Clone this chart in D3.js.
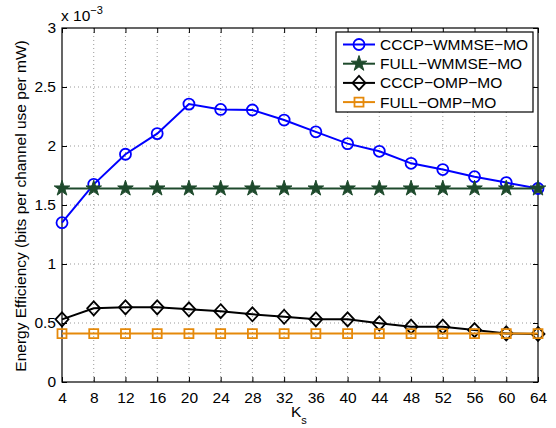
<!DOCTYPE html>
<html>
<head>
<meta charset="utf-8">
<script src="https://cdn.jsdelivr.net/npm/d3@7"></script>
<style>
  html, body { margin: 0; padding: 0; background: #fff; }
  svg { display: block; font-family: "Liberation Sans", Arial, Helvetica, sans-serif; }
</style>
</head>
<body>
<svg id="chart" width="556" height="428"></svg>
<script>
// Number of selected streams K_s
const ks = [4, 8, 12, 16, 20, 24, 28, 32, 36, 40, 44, 48, 52, 56, 60, 64];

// Energy efficiency, in units of 1e-3 bits per channel use per mW
const cccpWmmse = [1.35, 1.675, 1.93, 2.105, 2.355, 2.31, 2.305, 2.22, 2.12, 2.02, 1.955, 1.853, 1.80, 1.74, 1.69, 1.64];
const fullWmmse = [1.64, 1.64, 1.64, 1.64, 1.64, 1.64, 1.64, 1.64, 1.64, 1.64, 1.64, 1.64, 1.64, 1.64, 1.64, 1.64];
const cccpOmp   = [0.531, 0.624, 0.633, 0.633, 0.616, 0.60, 0.574, 0.553, 0.531, 0.531, 0.497, 0.469, 0.469, 0.44, 0.412, 0.407];
const fullOmp   = [0.41, 0.41, 0.41, 0.41, 0.41, 0.41, 0.41, 0.41, 0.41, 0.41, 0.41, 0.41, 0.41, 0.41, 0.41, 0.41];

const yTicks = [0, 0.5, 1, 1.5, 2, 2.5, 3];
const yTickLabels = ["0", "0.5", "1", "1.5", "2", "2.5", "3"];

const seriesNames = ["CCCP\u2212WMMSE\u2212MO", "FULL\u2212WMMSE\u2212MO", "CCCP\u2212OMP\u2212MO", "FULL\u2212OMP\u2212MO"];
const seriesValues = [cccpWmmse, fullWmmse, cccpOmp, fullOmp];
const seriesColors = ["#0000ff", "#1e4a2c", "#000000", "#e5890a"];
const seriesMarkers = ["circle", "star", "diamond", "square"];

const FONT = "15.5px";

const svg = d3.select("#chart");
const plotL = 62, plotR = 538, plotT = 28, plotB = 382;

const x = d3.scaleLinear().domain([4, 64]).range([plotL, plotR]);
const y = d3.scaleLinear().domain([0, 3]).range([plotB, plotT]);

// Dotted grid
const grid = svg.append("g");
grid.selectAll("line.vx").data(ks.slice(1, -1)).join("line")
  .attr("x1", d => x(d)).attr("x2", d => x(d))
  .attr("y1", plotT).attr("y2", plotB)
  .attr("stroke", "#555").attr("stroke-width", 0.6).attr("stroke-dasharray", "1,3");
grid.selectAll("line.hy").data(yTicks.slice(1, -1)).join("line")
  .attr("x1", plotL).attr("x2", plotR)
  .attr("y1", d => y(d)).attr("y2", d => y(d))
  .attr("stroke", "#555").attr("stroke-width", 0.6).attr("stroke-dasharray", "1,3");

// Axes with inward ticks
const xAxis = d3.axisBottom(x).tickValues(ks).tickFormat(d3.format("d")).tickSizeInner(-5).tickSizeOuter(0).tickPadding(10);
const xAxisTop = d3.axisTop(x).tickValues(ks).tickFormat("").tickSizeInner(-5).tickSizeOuter(0);
const yAxis = d3.axisLeft(y).tickValues(yTicks).tickFormat((d, i) => yTickLabels[i]).tickSizeInner(-5).tickSizeOuter(0).tickPadding(6);
const yAxisRight = d3.axisRight(y).tickValues(yTicks).tickFormat("").tickSizeInner(-5).tickSizeOuter(0);

function styleAxis(g) {
  g.select(".domain").remove();
  g.selectAll(".tick line").attr("stroke", "#000").attr("stroke-width", 1);
  g.selectAll(".tick text").attr("fill", "#000").style("font-size", FONT).style("font-family", "Liberation Sans, Arial, sans-serif");
}
svg.append("g").attr("transform", `translate(0,${plotB})`).call(xAxis).call(styleAxis);
svg.append("g").attr("transform", `translate(0,${plotT})`).call(xAxisTop).call(styleAxis);
svg.append("g").attr("transform", `translate(${plotL},0)`).call(yAxis).call(styleAxis);
svg.append("g").attr("transform", `translate(${plotR},0)`).call(yAxisRight).call(styleAxis);

// Axes box
svg.append("rect").attr("x", plotL).attr("y", plotT).attr("width", plotR - plotL).attr("height", plotB - plotT)
  .attr("fill", "none").attr("stroke", "#000").attr("stroke-width", 1.2);

// Marker shapes
const symbolFor = {
  circle: () => d3.symbol().type(d3.symbolCircle).size(95)(),
  star: () => d3.symbol().type(d3.symbolStar).size(75)(),
  diamond: () => "M0,-7L6.5,0L0,7L-6.5,0Z",
  square: () => "M-4.5,-4.5H4.5V4.5H-4.5Z"
};

function drawMarker(g, kind, color, cx, cy) {
  const p = g.append("path").attr("d", symbolFor[kind]()).attr("transform", `translate(${cx},${cy})`);
  if (kind === "star") {
    p.attr("fill", color).attr("stroke", color).attr("stroke-width", 1);
  } else {
    p.attr("fill", "none").attr("stroke", color).attr("stroke-width", 1.8);
  }
}

const line = d3.line().x((d, i) => x(ks[i])).y(d => y(d));

seriesValues.forEach((vals, s) => {
  const g = svg.append("g");
  g.append("path").datum(vals).attr("d", line)
    .attr("fill", "none").attr("stroke", seriesColors[s]).attr("stroke-width", 2);
  vals.forEach((v, i) => drawMarker(g, seriesMarkers[s], seriesColors[s], x(ks[i]), y(v)));
});

// Legend
const lg = svg.append("g");
lg.append("rect").attr("x", 336).attr("y", 32).attr("width", 197).attr("height", 80)
  .attr("fill", "#fff").attr("stroke", "#000").attr("stroke-width", 1.2);
seriesNames.forEach((name, s) => {
  const ly = 44.5 + s * 19.2;
  lg.append("line").attr("x1", 343).attr("x2", 375).attr("y1", ly).attr("y2", ly)
    .attr("stroke", seriesColors[s]).attr("stroke-width", 2);
  drawMarker(lg, seriesMarkers[s], seriesColors[s], 359, ly);
  lg.append("text").attr("x", 380).attr("y", ly + 5.5).text(name)
    .style("font-size", FONT).attr("fill", "#000");
});

// Exponent label
const ex = svg.append("text").attr("x", 61).attr("y", 21).style("font-size", FONT).attr("fill", "#000");
ex.append("tspan").text("x 10");
ex.append("tspan").attr("dy", -7).style("font-size", "11px").text("\u22123");

// Axis titles
svg.append("text").attr("transform", "translate(26,206) rotate(-90)").attr("text-anchor", "middle")
  .style("font-size", FONT).attr("fill", "#000").text("Energy Efficiency (bits per channel use per mW)");
const xl = svg.append("text").attr("x", 291).attr("y", 417).style("font-size", FONT).attr("fill", "#000");
xl.append("tspan").text("K");
xl.append("tspan").attr("dy", 7).style("font-size", "11px").text("s");
</script>
</body>
</html>
